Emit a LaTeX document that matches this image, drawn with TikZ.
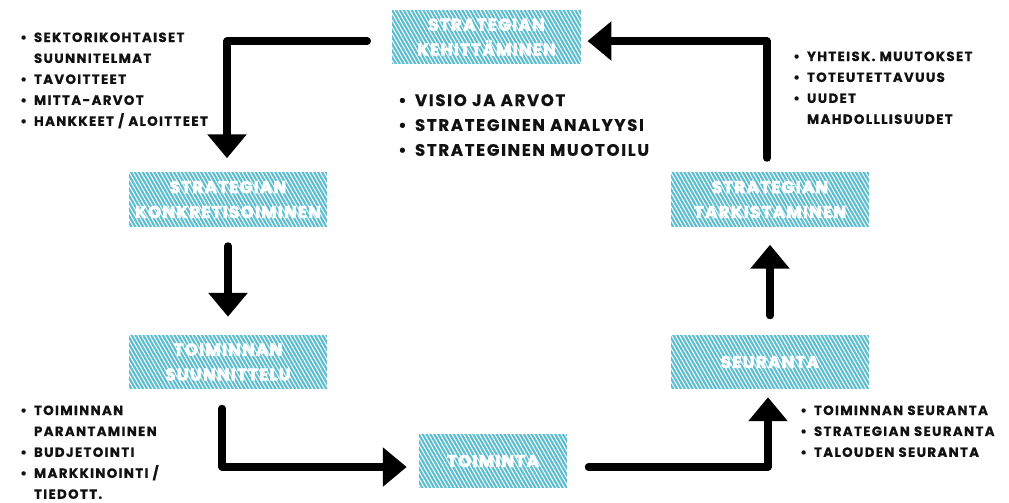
\documentclass[tikz,border=0pt]{standalone}
\usepackage{fontspec}
\setmainfont{Poppins}
\usetikzlibrary{positioning, arrows.meta, calc, patterns.meta}

\definecolor{stageblue}{HTML}{5DBDCE}
\definecolor{notetext}{HTML}{111111}

\newfontfamily\stagefont[LetterSpace=7, BoldFeatures={FakeBold=3}]{Poppins}
\newfontfamily\notefont[LetterSpace=10, BoldFeatures={FakeBold=0.6}]{Poppins}

\begin{document}
\begin{tikzpicture}[
    x=0.025cm, y=-0.025cm,
    stage/.style={
        rectangle,
        preaction={fill=stageblue},
        pattern={Lines[angle=120, distance=2.4pt, line width=0.7pt]},
        pattern color=white,
        minimum width=4.95cm,
        minimum height=1.35cm,
        inner sep=0pt,
        align=center,
        text=white,
        font=\stagefont\bfseries\fontsize{12}{17.7}\selectfont
    },
    notes/.style={
        anchor=base west,
        inner sep=0pt,
        text=notetext,
        font=\notefont\bfseries\fontsize{9.5}{14.9}\selectfont
    },
    bignotes/.style={
        notes,
        font=\notefont\bfseries\fontsize{11.8}{17.7}\selectfont
    },
    flow/.style={
        -{Triangle[width=27pt, length=17pt]},
        line width=5pt,
        line cap=round,
        line join=round,
        color=black
    }
]
\useasboundingbox (0,0) rectangle (1009,502);

% Stages of the cycle
\node[stage, minimum width=4.725cm] (develop) at (486.5,37) {STRATEGIAN\\KEHITTÄMINEN};
\node[stage] (concrete) at (228,199.5) {STRATEGIAN\\KONKRETISOIMINEN};
\node[stage] (plan) at (228,362) {TOIMINNAN\\SUUNNITTELU};
\node[stage, minimum width=3.7cm] (act) at (493,461) {TOIMINTA};
\node[stage] (monitor) at (770,362) {SEURANTA};
\node[stage] (review) at (770,199.5) {STRATEGIAN\\TARKISTAMINEN};

% Notes beside the stages
\node[notes] (concretenotes) at (20,42) {\begin{tabular}[t]{@{}l@{\hspace{5pt}}l@{}}
\textbullet & SEKTORIKOHTAISET\\
 & SUUNNITELMAT\\
\textbullet & TAVOITTEET\\
\textbullet & MITTA-ARVOT\\
\textbullet & HANKKEET / ALOITTEET
\end{tabular}};
\node[bignotes] (developnotes) at (398,106) {\begin{tabular}[t]{@{}l@{\hspace{6pt}}l@{}}
\textbullet & VISIO JA ARVOT\\
\textbullet & STRATEGINEN ANALYYSI\\
\textbullet & STRATEGINEN MUOTOILU
\end{tabular}};
\node[notes] (reviewnotes) at (793,61) {\begin{tabular}[t]{@{}l@{\hspace{5pt}}l@{}}
\textbullet & YHTEISK. MUUTOKSET\\
\textbullet & TOTEUTETTAVUUS\\
\textbullet & UUDET\\
 & MAHDOLLLISUUDET
\end{tabular}};
\node[notes] (plannotes) at (20,415) {\begin{tabular}[t]{@{}l@{\hspace{5pt}}l@{}}
\textbullet & TOIMINNAN\\
 & PARANTAMINEN\\
\textbullet & BUDJETOINTI\\
\textbullet & MARKKINOINTI /\\
 & TIEDOTT.
\end{tabular}};
\node[notes] (monitornotes) at (800,415) {\begin{tabular}[t]{@{}l@{\hspace{5pt}}l@{}}
\textbullet & TOIMINNAN SEURANTA\\
\textbullet & STRATEGIAN SEURANTA\\
\textbullet & TALOUDEN SEURANTA
\end{tabular}};

% Cycle arrows
\draw[flow] ($(develop.west)+(-24,4)$) -| ($(concrete.north)+(-1,-14)$);
\draw[flow] ($(concrete.south)+(0,19)$) -- ($(plan.north)+(0,-18)$);
\draw[flow] ($(plan.south)+(-6,19)$) |- ($(act.west)+(-12,6)$);
\draw[flow] ($(act.east)+(21,6)$) -| ($(monitor.south)+(-2,8)$);
\draw[flow] ($(monitor.north)+(0,-19)$) -- ($(review.south)+(0,18)$);
\draw[flow] ($(review.north)+(-3,-14)$) |- ($(develop.east)+(6,4)$);

\end{tikzpicture}
\end{document}
